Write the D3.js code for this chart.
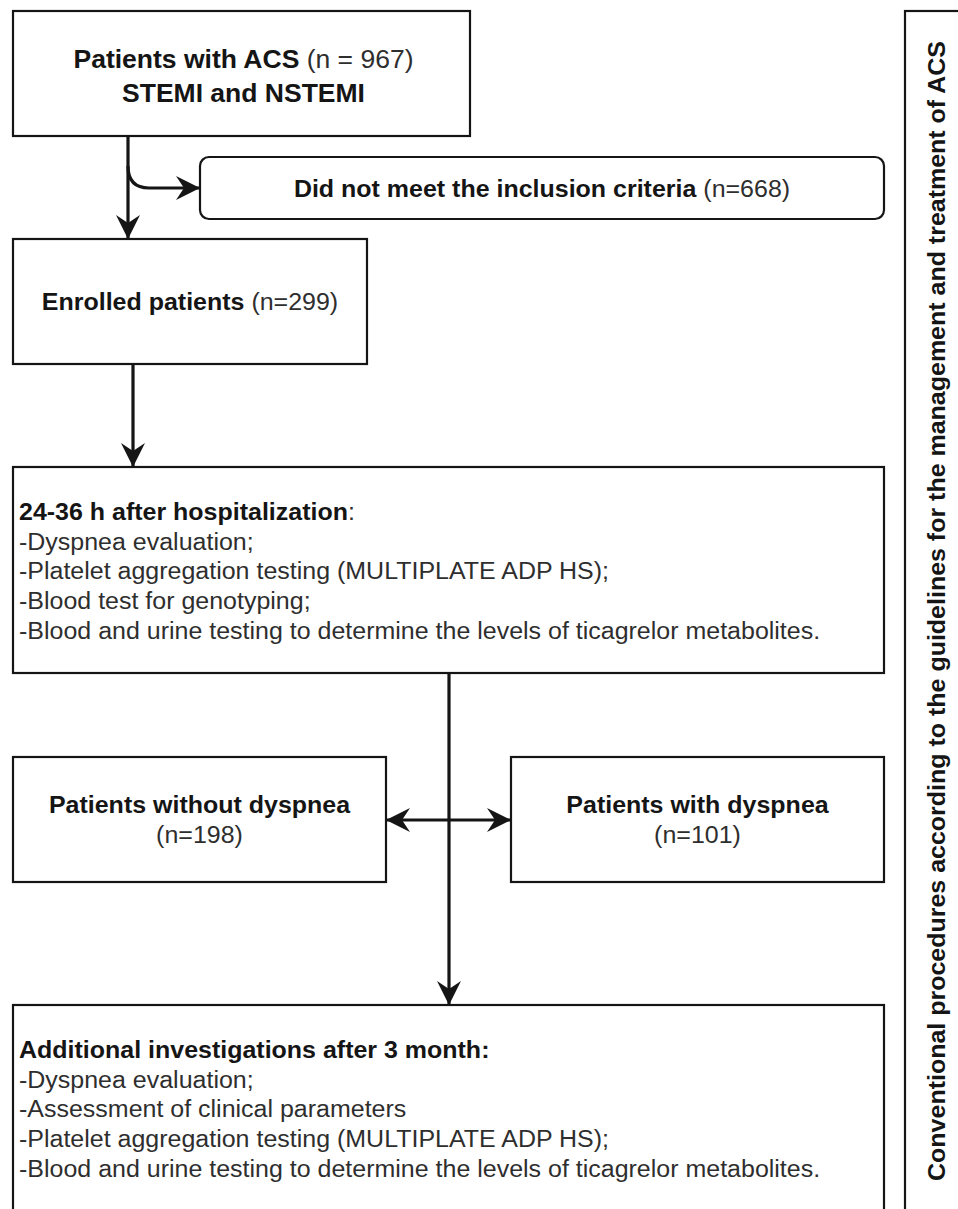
<!DOCTYPE html>
<html>
<head>
<meta charset="utf-8">
<script src="https://cdn.jsdelivr.net/npm/d3@7"></script>
<style>
body { margin: 0; background: #fff; }
svg { display: block; font-family: "Liberation Sans", Arial, Helvetica, sans-serif; }
</style>
</head>
<body>
<div id="chart"></div>
<script>
// flow content
const stageNames = ["Patients with ACS", "Did not meet the inclusion criteria", "Enrolled patients", "Patients without dyspnea", "Patients with dyspnea"];
const stageCounts = [967, 668, 299, 198, 101];
const acsTypes = "STEMI and NSTEMI";

const baselineTitle = "24-36 h after hospitalization";
const baselineSteps = [
	"-Dyspnea evaluation;",
	"-Platelet aggregation testing (MULTIPLATE ADP HS);",
	"-Blood test for genotyping;",
	"-Blood and urine testing to determine the levels of ticagrelor metabolites."
];

const followupTitle = "Additional investigations after 3 month:";
const followupSteps = [
	"-Dyspnea evaluation;",
	"-Assessment of clinical parameters",
	"-Platelet aggregation testing (MULTIPLATE ADP HS);",
	"-Blood and urine testing to determine the levels of ticagrelor metabolites."
];

const sideLabel = "Conventional procedures according to the guidelines for the management and treatment of ACS";

// layout + styles
const w = 958, h = 1209;
const ink = "#151515",
	inkLight = "#2e2e2e",
	fontSize = 24.5,
	stretch = 1.02,
	lineStep = 29.7;

const boxes = {
	acs:      { x: 13,  y: 11,   w: 457, h: 125 },
	excluded: { x: 200, y: 157,  w: 684, h: 62, r: 9 },
	enrolled: { x: 13,  y: 239,  w: 354, h: 125 },
	baseline: { x: 13,  y: 467,  w: 871, h: 206 },
	noDysp:   { x: 13,  y: 757,  w: 373, h: 125 },
	dysp:     { x: 511, y: 757,  w: 373, h: 125 },
	followup: { x: 13,  y: 1005, w: 871, h: 240 },
	side:     { x: 905, y: 11,   w: 90,  h: 1240 }
};

const svg = d3.select("#chart").append("svg")
	.attr("width", w)
	.attr("height", h);

svg.append("rect").attr("width", w).attr("height", h).attr("fill", "#fff");

//boxes
const boxG = svg.append("g").attr("class", "boxes");
boxG.selectAll("rect")
	.data(Object.values(boxes))
	.join("rect")
	.attr("x", d => d.x)
	.attr("y", d => d.y)
	.attr("width", d => d.w)
	.attr("height", d => d.h)
	.attr("rx", d => d.r || 0)
	.attr("fill", "none")
	.attr("stroke", ink)
	.attr("stroke-width", 2.2);

//text helper: parts = [{text, bold}]
function addLabel(parent, x, y, parts, opt = {}){
	const size = opt.size || fontSize;
	const sx = opt.sx || stretch;
	const t = parent.append("text")
		.attr("transform", `translate(${x},${y}) ${opt.rotate ? `rotate(${opt.rotate})` : ""} scale(${sx},1)`)
		.attr("text-anchor", opt.anchor || "middle")
		.attr("font-size", size);
	parts.forEach(p => {
		t.append("tspan")
			.attr("font-weight", p.bold ? "bold" : "normal")
			.attr("fill", p.bold ? ink : inkLight)
			.text(p.text);
	});
	return t;
}

let cx = b => b.x + b.w / 2;

const textG = svg.append("g").attr("class", "labels");

// top box
addLabel(textG, cx(boxes.acs) + 2, 68, [
	{ text: stageNames[0], bold: true },
	{ text: ` (n = ${stageCounts[0]})` }
], { size: 25.5, sx: 1.04 });
addLabel(textG, cx(boxes.acs) + 2, 102, [{ text: acsTypes, bold: true }], { size: 25.5, sx: 1.04 });

// excluded
addLabel(textG, cx(boxes.excluded), 197, [
	{ text: stageNames[1], bold: true },
	{ text: ` (n=${stageCounts[1]})` }
]);

// enrolled
addLabel(textG, cx(boxes.enrolled), 310, [
	{ text: stageNames[2], bold: true },
	{ text: ` (n=${stageCounts[2]})` }
]);

// list boxes
function listBox(b, title, titleColon, steps){
	const x0 = b.x + 6, y0 = b.y + 53;
	addLabel(textG, x0, y0, [
		{ text: title, bold: true },
		{ text: titleColon }
	], { anchor: "start" });
	steps.forEach((s, i) => {
		addLabel(textG, x0, y0 + (i + 1) * lineStep, [{ text: s }], { anchor: "start" });
	});
}
listBox(boxes.baseline, baselineTitle, ":", baselineSteps);
listBox(boxes.followup, followupTitle, "", followupSteps);

// dyspnea split
[["noDysp", 3], ["dysp", 4]].forEach(([k, i]) => {
	addLabel(textG, cx(boxes[k]), 813, [{ text: stageNames[i], bold: true }]);
	addLabel(textG, cx(boxes[k]), 843, [{ text: `(n=${stageCounts[i]})` }]);
});

// side label
addLabel(textG, 945, 611, [{ text: sideLabel, bold: true }], { rotate: -90 });

//edges
const edgeG = svg.append("g").attr("class", "edges");

function arrowHead(x, y, angle){
	edgeG.append("path")
		.attr("d", "M0,0L-24,-12L-16,0L-24,12Z")
		.attr("transform", `translate(${x},${y}) rotate(${angle})`)
		.attr("fill", ink);
}

function edge(pathFn, heads){
	const p = d3.path();
	pathFn(p);
	edgeG.append("path")
		.attr("d", p.toString())
		.attr("fill", "none")
		.attr("stroke", ink)
		.attr("stroke-width", 3.2);
	heads.forEach(hd => arrowHead(...hd));
}

const a = boxes.acs, en = boxes.enrolled, bl = boxes.baseline, ex = boxes.excluded, fu = boxes.followup;
const trunkX = 128, branchY = ex.y + ex.h / 2;

edge(p => { p.moveTo(trunkX, a.y + a.h); p.lineTo(trunkX, en.y); }, [[trunkX, en.y, 90]]);
edge(p => {
	p.moveTo(trunkX, 166);
	p.quadraticCurveTo(trunkX, branchY, trunkX + 21, branchY);
	p.lineTo(ex.x, branchY);
}, [[ex.x, branchY, 0]]);
edge(p => { p.moveTo(133, en.y + en.h); p.lineTo(133, bl.y); }, [[133, bl.y, 90]]);
edge(p => { p.moveTo(449, bl.y + bl.h); p.lineTo(449, fu.y); }, [[449, fu.y, 90]]);

const splitY = 820;
edge(p => {
	p.moveTo(boxes.noDysp.x + boxes.noDysp.w, splitY);
	p.lineTo(boxes.dysp.x, splitY);
}, [[boxes.noDysp.x + boxes.noDysp.w, splitY, 180], [boxes.dysp.x, splitY, 0]]);
</script>
</body>
</html>
